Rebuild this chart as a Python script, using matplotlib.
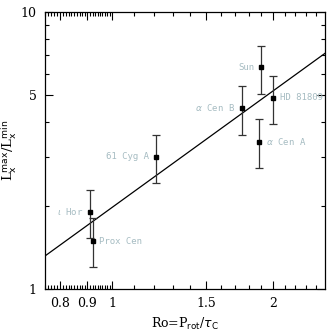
import numpy as np
import matplotlib
matplotlib.use('Agg')
import matplotlib.pyplot as plt
from matplotlib.ticker import FixedLocator, NullFormatter, FixedFormatter

# stars: Rossby number, cycle amplitude and error bar ends
stars = ['Sun', r'$\alpha$ Cen A', r'$\alpha$ Cen B', 'HD 81809', '61 Cyg A', r'$\iota$ Hor', 'Prox Cen']
ro = [1.90, 1.88, 1.75, 2.00, 1.21, 0.91, 0.92]
amp = [6.33, 3.40, 4.51, 4.91, 3.00, 1.90, 1.49]
amp_hi = [7.56, 4.10, 5.40, 5.87, 3.60, 2.28, 1.80]
amp_lo = [5.06, 2.73, 3.60, 3.93, 2.41, 1.53, 1.20]
label_side = ['left', 'right', 'left', 'right', 'left', 'left', 'right']

# power-law fit  Lmax/Lmin = coef * Ro**slope
fit_coef = 1.97
fit_slope = 1.40

xticks_major = [0.8, 0.9, 1.0, 1.5, 2.0]
xtick_labels = ['0.8', '0.9', '1', '1.5', '2']
yticks_major = [1, 5, 10]

fig = plt.figure(figsize=(3.32, 3.35), dpi=100)
ax = fig.add_axes([0.1355, 0.137, 0.844, 0.827])

ro = np.array(ro)
amp = np.array(amp)
yerr = [amp - np.array(amp_lo), np.array(amp_hi) - amp]
ax.errorbar(ro, amp, yerr=yerr, fmt='s', ms=3.2, color='black', ecolor='#333333',
            elinewidth=0.9, capsize=3, capthick=0.9, zorder=3)

xfit = np.array([0.75, 2.5])
ax.plot(xfit, fit_coef * xfit ** fit_slope, color='black', lw=0.9)

lab_color = '#a6bcc2'
for name, x, y, side in zip(stars, ro, amp, label_side):
    if side == 'left':
        ax.annotate(name, (x, y), xytext=(-5, 0), textcoords='offset points',
                    ha='right', va='center', fontsize=6.5, color=lab_color,
                    family='DejaVu Sans Mono', annotation_clip=False, clip_on=True)
    else:
        ax.annotate(name, (x, y), xytext=(5, 0), textcoords='offset points',
                    ha='left', va='center', fontsize=6.5, color=lab_color,
                    family='DejaVu Sans Mono', annotation_clip=False, clip_on=True)

ax.set_xscale('log')
ax.set_yscale('log')
ax.set_xlim(0.75, 2.5)
ax.set_ylim(1, 10)

ax.xaxis.set_major_locator(FixedLocator(xticks_major))
ax.xaxis.set_major_formatter(FixedFormatter(xtick_labels))
minor_x = list(np.arange(0.75, 1.0, 0.01)) + list(np.arange(1.1, 2.5, 0.1))
ax.xaxis.set_minor_locator(FixedLocator(minor_x))
ax.xaxis.set_minor_formatter(NullFormatter())

ax.yaxis.set_major_locator(FixedLocator(yticks_major))
ax.yaxis.set_major_formatter(FixedFormatter(['1', '5', '10']))
ax.yaxis.set_minor_locator(FixedLocator([2, 3, 4, 6, 7, 8, 9]))
ax.yaxis.set_minor_formatter(NullFormatter())

ax.tick_params(which='both', direction='in', top=True, right=True, width=0.8,
               labelsize=9, pad=6)
ax.tick_params(which='major', length=6)
ax.tick_params(which='minor', length=3)
for lab in ax.get_xticklabels() + ax.get_yticklabels():
    lab.set_family('DejaVu Serif')

for sp in ax.spines.values():
    sp.set_linewidth(0.9)

ax.set_xlabel(r'Ro=P$_{\rm rot}$/$\tau_{\rm C}$', fontsize=9, family='DejaVu Serif', labelpad=4)
ax.set_ylabel(r'L$_{\rm x}^{\rm max}$/L$_{\rm x}^{\rm min}$', fontsize=9.5, family='DejaVu Serif', labelpad=1)

fig.savefig('out.png', dpi=100)
